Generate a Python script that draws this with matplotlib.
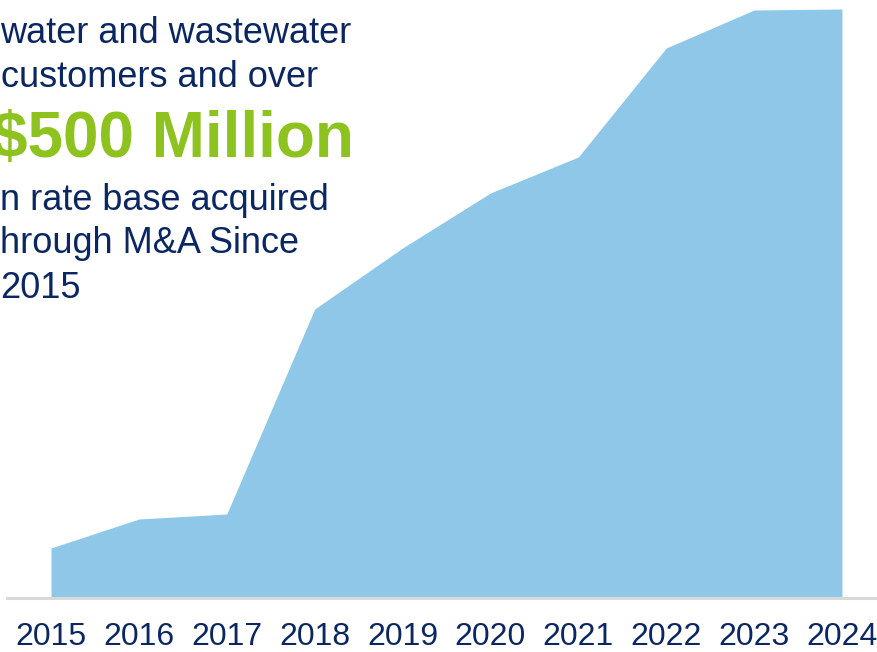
import matplotlib
matplotlib.use("Agg")
import matplotlib.pyplot as plt

W, H = 878, 652
NAVY = "#0b2762"
GREEN = "#8dc21f"
FILL = "#8fc7e8"
AXIS = "#d9d9d9"

years = [2015, 2016, 2017, 2018, 2019, 2020, 2021, 2022, 2023, 2024]
# cumulative rate base acquired (relative index)
rate_base = [50, 79, 84, 289, 350, 405, 441, 550, 588, 589]

plt.rcParams["font.family"] = ["Liberation Sans", "DejaVu Sans"]

fig = plt.figure(figsize=(W / 100, H / 100), dpi=100)
base_px = 598
ax = fig.add_axes([0, (H - base_px) / H, 1, base_px / H])
step = (842 - 51) / 9
ax.set_xlim(years[0] - 51 / step, years[0] + (W - 51) / step)
ax.set_ylim(0, base_px)
ax.fill_between(years, rate_base, 0, color=FILL, lw=0)
ax.axhline(0, xmin=7 / W, xmax=1, color=AXIS, lw=2.2, clip_on=False)
ax.axis("off")

for y in years:
    ax.text(y, -39, str(y), ha="center", va="center", fontsize=23,
            color=NAVY, clip_on=False)

lines = [
    ("water and wastewater", 0, 43, NAVY, 26, "normal"),
    ("customers and over", 1, 87, NAVY, 26, "normal"),
    ("$500 Million", -8, 157, GREEN, 46, "bold"),
    ("n rate base acquired", 0, 210, NAVY, 26, "normal"),
    ("hrough M&A Since", 0, 253, NAVY, 26, "normal"),
    ("2015", 0, 298, NAVY, 26, "normal"),
]
for txt, x, y, c, fs, fw in lines:
    fig.text(x / W, 1 - y / H, txt, ha="left", va="baseline", color=c,
             fontsize=fs, fontweight=fw)

fig.savefig("out.png", dpi=100, facecolor="white")
